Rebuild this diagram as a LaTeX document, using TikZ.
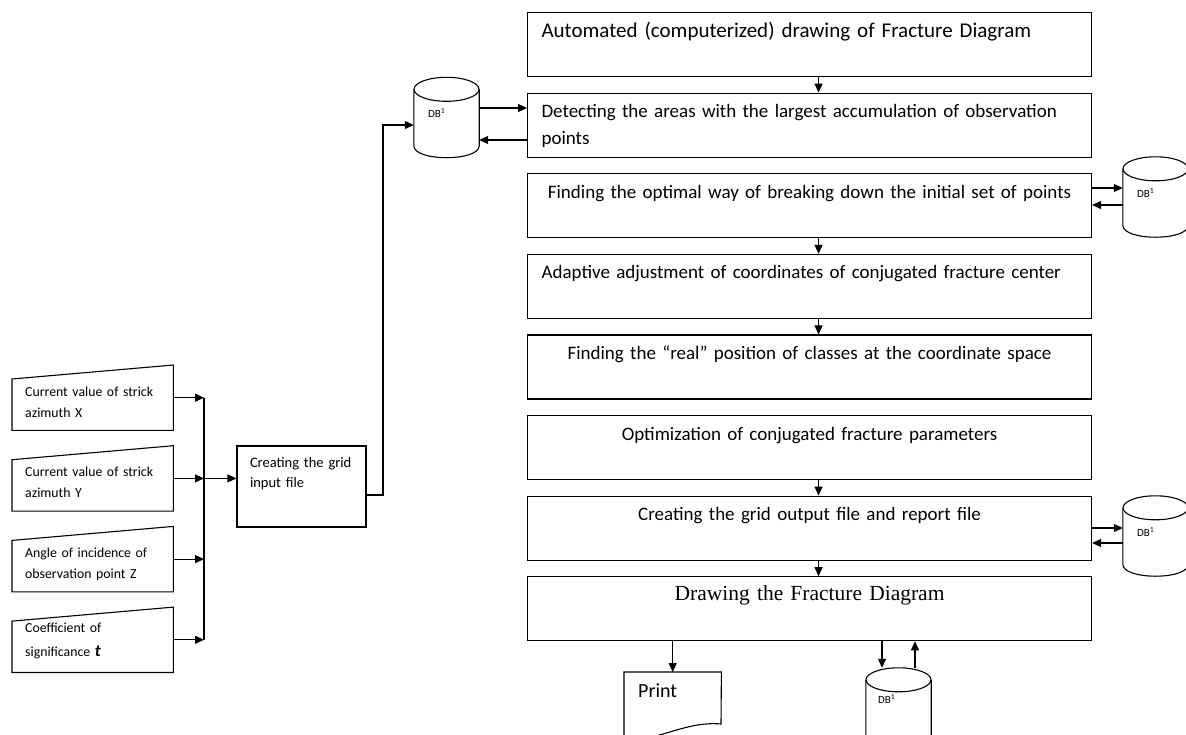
\documentclass[tikz,border=0pt]{standalone}
\usepackage{fontspec}
\setmainfont{Carlito}
\newfontfamily\serifdraw{Liberation Serif}
\usetikzlibrary{positioning,arrows.meta}
\tikzset{
process/.style={rectangle, draw=black, line width=1.1pt, minimum width=564pt, text width=536pt, inner xsep=14pt, inner ysep=0pt, text height=24.5pt, text depth=39.5pt, align=center, font=\fontsize{19}{27}\selectfont, node distance=15.5pt},
inputbox/.style={rectangle, minimum width=161pt, text width=135pt, inner xsep=13pt, inner ysep=0pt, text height=31pt, text depth=34pt, align=left, font=\fontsize{13.8}{21}\selectfont, node distance=15.3pt},
gridbox/.style={rectangle, draw=black, line width=1.1pt, minimum width=129pt, text width=103pt, inner xsep=13pt, inner ysep=0pt, text height=21pt, text depth=60pt, align=left, font=\fontsize{14.5}{20.5}\selectfont},
database/.style={rectangle, minimum width=65pt, minimum height=80pt, text width=37pt, inner xsep=14pt, inner ysep=0pt, text height=40pt, text depth=40pt, align=left, font=\fontsize{11}{13}\selectfont},
printout/.style={rectangle, minimum width=97pt, minimum height=70pt, text width=69pt, inner xsep=14pt, inner ysep=0pt, text height=25pt, text depth=45pt, align=left, font=\fontsize{20}{24}\selectfont},
connect/.style={-{Triangle[length=9pt,width=8pt]}, line width=1.1pt},
wire/.style={line width=1.1pt}
}

\begin{document}
\begin{tikzpicture}[x=1pt, y=-1pt]
    \useasboundingbox (0,0) rectangle (1186,734);
    \clip (0,0) rectangle (1186,734);

    % processing chain
    \node[process, anchor=north west, align=left, font=\fontsize{21}{27}\selectfont] (auto) at (527,12) {Automated (computerized) drawing of Fracture Diagram};
    \node[process, below=of auto, align=left] (detect) {Detecting the areas with the largest accumulation of observation\\points};
    \node[process, below=of detect] (optway) {Finding the optimal way of breaking down the initial set of points};
    \node[process, below=of optway, align=left] (adapt) {Adaptive adjustment of coordinates of conjugated fracture center};
    \node[process, below=of adapt] (real) {Finding the “real” position of classes at the coordinate space};
    \node[process, below=of real] (optim) {Optimization of conjugated fracture parameters};
    \node[process, below=of optim] (gridout) {Creating the grid output file and report file};
    \node[process, below=of gridout, font=\serifdraw\fontsize{21.5}{27}\selectfont, text height=24pt, text depth=40pt] (drawfd) {Drawing the Fracture Diagram};

    % databases
    \node[database] (dbin) at (446.5,117.5) {DB\textsuperscript{1}};
    \node[database] (dbopt) at (1155.5,197) {DB\textsuperscript{1}};
    \node[database] (dbout) at (1155.5,536) {DB\textsuperscript{1}};
    \node[database, inner xsep=12pt, text width=41pt, text height=35pt, text depth=45pt] (dbfd) at (898.5,708) {DB\textsuperscript{1}};
    \foreach \d in {dbin,dbopt,dbout,dbfd} {
        \draw[wire] ([yshift=-12pt]\d.north) ellipse [x radius=32.5pt, y radius=12pt];
        \draw[wire] ([yshift=-12pt]\d.north west) -- ([yshift=12pt]\d.south west) .. controls +(0,16) and +(0,16) .. ([yshift=12pt]\d.south east) -- ([yshift=-12pt]\d.north east);
    }

    % input data
    \node[inputbox, anchor=north west] (azx) at (12,365) {Current value of strick\\azimuth X};
    \node[inputbox, below=of azx] (azy) {Current value of strick\\azimuth Y};
    \node[inputbox, below=of azy] (angz) {Angle of incidence of\\observation point Z};
    \node[inputbox, below=of angz, text height=25pt, text depth=40pt] (coef) {Coefficient of\\[3pt]significance {\fontsize{17}{17}\selectfont\bfseries\itshape t}};
    \foreach \n in {azx,azy,angz,coef}
        \draw[wire] (\n.south west) -- (\n.south east) -- (\n.north east) -- ([yshift=-14pt]\n.north west) -- cycle;

    \node[gridbox] (grid) at (301.5,486.5) {Creating the grid\\input file};
    \node[printout, anchor=north west] (print) at (624,672) {Print};
    \draw[wire] (print.south west) -- (print.north west) -- (print.north east) -- (721,724) .. controls (688,721) and (664,738) .. (print.south west);

    % connectors
    \coordinate (bus) at (204,0);
    \foreach \n in {azx,azy,angz,coef}
        \draw[connect] (\n.east) -- (\n.east -| bus);
    \draw[wire] (azx.east -| bus) -- (coef.east -| bus);
    \draw[connect] (azy.east -| bus) -- (azy.east -| grid.west);
    \draw[connect] (grid.east |- 0,495) -| (383,125) -- (dbin.west |- 0,125);
    \draw[connect] (dbin.east |- 0,108) -- (detect.west |- 0,108);
    \draw[connect] (detect.west |- 0,140) -- (dbin.east |- 0,140);
    \foreach \a/\b in {auto/detect,optway/adapt,adapt/real,optim/gridout,gridout/drawfd}
        \draw[connect] ([xshift=9pt]\a.south) -- ([xshift=9pt]\b.north);
    \draw[connect] (optway.east |- 0,188) -- (dbopt.west |- 0,188);
    \draw[connect] (dbopt.west |- 0,205) -- (optway.east |- 0,205);
    \draw[connect] (gridout.east |- 0,528) -- (dbout.west |- 0,528);
    \draw[connect] (dbout.west |- 0,543) -- (gridout.east |- 0,543);
    \draw[connect] (drawfd.south -| print.north) -- (print.north);
    \draw[connect] (drawfd.south -| 882,0) -- (882,0 |- dbfd.north);
    \draw[connect] (915,0 |- dbfd.north) -- (drawfd.south -| 915,0);
\end{tikzpicture}
\end{document}
